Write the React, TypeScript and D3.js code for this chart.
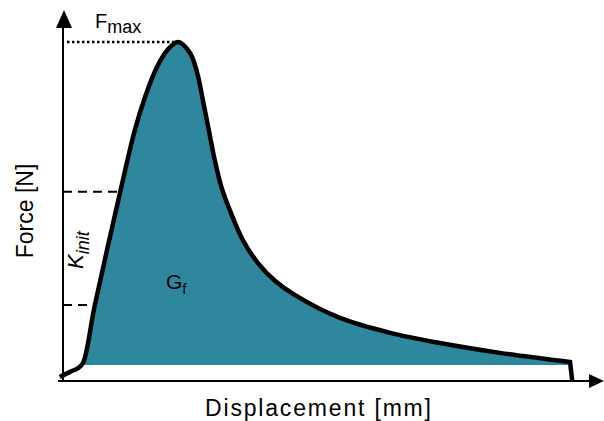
import React from "react";
import * as d3 from "d3";

// Force–displacement curve (displacement in arbitrary mm units, force in % of Fmax)
const displacement = [-0.6, 1.3, 2.8, 3.7, 5.9, 10.6, 13.3, 15.2, 17.4, 19.3, 21.3, 23.5, 24.8, 25.9, 27.0, 28.1, 29.4, 31.1, 33.3, 36.1, 39.3, 42.9, 51.3, 60.6, 69.8, 80.9, 93.9];
const force = [1.2, 2.7, 3.8, 5.3, 22.4, 55.8, 74.0, 83.8, 92.6, 97.6, 100, 96.8, 91.2, 82.9, 74.0, 65.2, 56.9, 49.6, 41.6, 34.8, 29.5, 25.4, 18.6, 14.2, 11.2, 8.3, 5.6];
const endDisplacement = 94.3;
const fillStartIndex = 3;
const fillBaseForce = 4.7;
const fmax = 100;
const kinitForces = [55.8, 22.4];
const xLabel = "Displacement [mm]";
const yLabel = "Force [N]";

const W = 604;
const H = 421;

export default function App() {
  const x = d3.scaleLinear().domain([0, 100]).range([63, 603]);
  const y = d3.scaleLinear().domain([0, 100]).range([381, 42]);
  const pts = displacement.map((d, i) => [d, force[i]] as [number, number]);
  const curve = d3.curveCatmullRom.alpha(0.5);
  const line = d3
    .line<[number, number]>()
    .x((d) => x(d[0]))
    .y((d) => y(d[1]))
    .curve(curve);
  const curvePath = line(pts) + `L${x(endDisplacement)},${y(0)}`;
  const fillPts = pts.slice(fillStartIndex);
  const area = d3
    .area<[number, number]>()
    .x((d) => x(d[0]))
    .y0(y(fillBaseForce))
    .y1((d) => y(d[1]))
    .curve(curve);
  const peakIdx = force.indexOf(fmax);
  const riseX = (f: number) => {
    for (let i = fillStartIndex; i < peakIdx; i++) {
      if (force[i] <= f && force[i + 1] >= f) {
        const t = (f - force[i]) / (force[i + 1] - force[i]);
        return displacement[i] + t * (displacement[i + 1] - displacement[i]);
      }
    }
    return 0;
  };
  const font = "'Liberation Sans', Arial, sans-serif";
  return (
    <svg width={W} height={H} style={{ position: "absolute", left: 0, top: 0 }}>
      <rect width={W} height={H} fill="white" />
      <path d={area(fillPts) ?? ""} fill="#2e879d" />
      {kinitForces.map((f, i) => (
        <line key={i} x1={x(0)} x2={x(riseX(f))} y1={y(f)} y2={y(f)} stroke="black" strokeWidth={2} strokeDasharray="9,6" />
      ))}
      <line x1={x(0) + 4} x2={x(displacement[peakIdx]) - 2} y1={y(fmax)} y2={y(fmax)} stroke="black" strokeWidth={2.5} strokeDasharray="2.5,2.5" />
      <line x1={x(0)} x2={x(0)} y1={y(0) + 1} y2={26} stroke="black" strokeWidth={2} />
      <path d={`M${x(0) + 1},10 L${x(0) - 7},28 L${x(0) + 9},28 Z`} fill="black" />
      <line x1={58} x2={592} y1={y(0)} y2={y(0)} stroke="black" strokeWidth={2} />
      <path d={`M604,${y(0)} L589,${y(0) - 7} L589,${y(0) + 7} Z`} fill="black" />
      <path d={curvePath} fill="none" stroke="black" strokeWidth={4.5} strokeLinejoin="miter" />
      <text x={95} y={28} fontFamily={font} fontSize={20}>
        F<tspan fontSize={18} dy={5}>max</tspan>
      </text>
      <text x={166} y={289} fontFamily={font} fontSize={21}>
        G<tspan fontSize={15} dy={5}>f</tspan>
      </text>
      <text transform="translate(83,269) rotate(-90)" fontFamily={font} fontSize={22} fontStyle="italic">
        K<tspan fontSize={18} dy={6}>init</tspan>
      </text>
      <text transform="translate(33,211) rotate(-90)" fontFamily={font} fontSize={23} textAnchor="middle">
        {yLabel}
      </text>
      <text x={318} y={416} fontFamily={font} fontSize={23} textAnchor="middle" textLength={226} lengthAdjust="spacing">
        {xLabel}
      </text>
    </svg>
  );
}
